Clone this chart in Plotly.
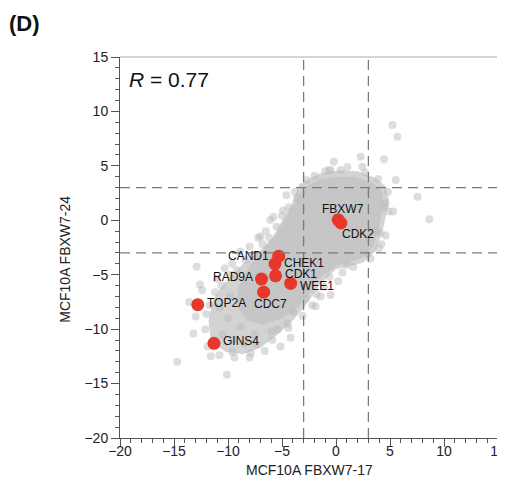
import plotly.graph_objects as go

# ---------------- data ----------------
gene_names = ["FBXW7", "CDK2", "CAND1", "CHEK1", "CDK1", "RAD9A", "WEE1", "CDC7", "TOP2A", "GINS4"]
gene_x = [0.2, 0.45, -5.3, -5.65, -5.6, -6.9, -4.2, -6.7, -12.8, -11.3]
gene_y = [0.05, -0.25, -3.3, -4.0, -5.1, -5.4, -5.8, -6.6, -7.75, -11.3]

# dense core of the genome-wide cloud (outline)
core_x = [-3.0, -1.5, 0.4, 1.8, 3.3, 4.2, 4.4, 4.0, 3.4, 2.3, 0.0, -1.6, -2.5, -3.5, -5.0, -6.8, -8.3, -9.2, -9.0, -8.0, -6.8, -5.6, -4.7, -3.8]
core_y = [3.0, 3.8, 4.0, 4.0, 3.5, 2.8, 1.6, -0.5, -2.5, -3.5, -4.2, -5.4, -6.8, -8.0, -9.0, -9.6, -9.2, -7.8, -6.0, -4.2, -2.8, -1.4, 0.1, 1.6]

# outer, lighter band of the cloud (outline)
band_x = [-3.4, -1.5, 0.4, 2.0, 3.6, 4.6, 4.9, 4.4, 3.7, 2.5, 0.0, -1.5, -2.5, -3.8, -5.4, -7.0, -8.6, -10.2, -11.6, -11.8, -11.4, -10.2, -8.6, -7.1, -5.9, -5.0, -4.1]
band_y = [3.3, 4.3, 4.6, 4.5, 3.9, 3.1, 1.8, -0.6, -2.8, -3.9, -4.5, -5.9, -7.4, -9.0, -10.5, -11.7, -12.3, -12.1, -11.1, -9.2, -7.3, -5.6, -4.0, -2.9, -1.6, -0.1, 1.5]

# individual genes at the fringe of the cloud
fringe_x = [-3.8, -4.4, -5.0, -5.5, -6.2, -6.8, -7.6, -8.4, -9.2, -9.8, -10.6, -11.2, -11.7, -12.0, -12.1, -11.9, -10.8, -9.4,
            -2.7, -2.0, -1.0, -4.6, -5.8, -7.2, -8.9, -10.3,
            4.8, 4.9, 4.6, 4.2, 3.2, 1.6, 0.6, -0.6, -1.1, -1.8, -2.2, -3.1, -4.4, -5.9, -6.6, -8.0, -0.5, -1.43, 0.2,
            -0.5, 1.05, 2.7, 3.9, -0.2, 2.28, 2.44, -0.66, 0.43,
            5.23, 5.69, 4.45, 5.53, 7.55, 8.63, 4.6, 5.3, 4.14, 3.98, -6.07, -7.0, -12.9, -12.6, -13.2, -14.7, -10.1,
            -8.86, -13.0, -12.4, -11.6, -7.9, -5.14, -4.2, -1.9, -13.6,
            -10.5, -9.5, -10.0, -10.8, -9.8, -7.5, -6.0, -8.5, -4.5,
            -3.6, -4.9, -6.5, -8.0, -9.6, -11.0, 4.5, 3.8, 2.9, 1.0, -2.8, -4.0, -5.4, -7.4, -9.6]
fringe_y = [2.6, 1.2, 0.4, -0.6, -1.6, -2.2, -3.2, -3.6, -4.6, -5.0, -6.0, -6.6, -7.8, -8.6, -10.0, -11.6, -12.4, -12.6,
            3.7, 4.1, 4.5, 2.3, 0.3, -1.6, -2.9, -4.4,
            2.6, 0.8, -1.4, -2.2, -3.5, -4.3, -4.8, -5.2, -6.1, -6.8, -7.8, -8.8, -9.9, -11.0, -12.0, -12.6, -6.86, -7.0, -5.6,
            4.6, 4.9, 4.4, 3.8, 5.38, 5.84, 4.92, 4.62, 4.62,
            8.75, 7.68, 5.6, 3.7, 2.17, 0.09, 1.56, 0.8, -1.2, -2.57, 0.03, -1.5, -4.26, -5.9, -10.4, -13.0, -14.2,
            -9.77, -8.85, -6.4, -12.5, -12.2, -11.6, -10.8, -7.9, -7.5,
            -10.5, -11.0, -9.0, -8.0, -7.0, -10.5, -10.2, -11.3, -9.5,
            2.0, 0.9, -1.0, -2.4, -4.0, -5.4, 1.2, -1.0, -3.1, -4.1, -7.2, -8.4, -10.0, -11.4, -12.1]

cut = 3
r_text = "<i>R</i> = 0.77"
x_title = "MCF10A FBXW7-17"
y_title = "MCF10A FBXW7-24"
panel = "<b>(D)</b>"

# label placement style per gene: (xanchor, yanchor, xshift, yshift)
label_pos = {
    "FBXW7": ("center", "middle", 5, 11),
    "CDK2": ("center", "middle", 17, -11),
    "CAND1": ("right", "middle", -8, 0),
    "CHEK1": ("left", "middle", 7, 1),
    "CDK1": ("left", "middle", 7, 2),
    "RAD9A": ("right", "middle", -6, 2),
    "WEE1": ("left", "middle", 7, -3),
    "CDC7": ("center", "middle", 7, -12),
    "TOP2A": ("left", "middle", 7, 2),
    "GINS4": ("left", "middle", 7, 2),
}

FONT = "Liberation Sans, Arial, Helvetica, sans-serif"

fig = go.Figure()
fig.add_trace(go.Scatter(x=band_x, y=band_y, mode="lines", fill="toself",
                         fillcolor="rgb(211,211,211)", line=dict(width=0), hoverinfo="skip"))
fig.add_trace(go.Scatter(x=core_x, y=core_y, mode="lines", fill="toself",
                         fillcolor="rgb(198,198,198)", line=dict(width=0), hoverinfo="skip"))
fig.add_trace(go.Scatter(x=fringe_x, y=fringe_y, mode="markers",
                         marker=dict(size=8, color="rgb(188,188,188)", opacity=0.5, line=dict(width=0))))
fig.add_trace(go.Scatter(x=gene_x, y=gene_y, mode="markers",
                         marker=dict(size=13, color="#e5372a", line=dict(width=0))))

for v in (-cut, cut):
    fig.add_shape(type="line", x0=v, x1=v, y0=0, y1=1, xref="x", yref="paper",
                  line=dict(color="#7a7a7a", width=1.3, dash="10px,6px"), layer="above")
    fig.add_shape(type="line", y0=v, y1=v, x0=0, x1=1, yref="y", xref="paper",
                  line=dict(color="#7a7a7a", width=1.3, dash="10px,6px"), layer="above")

# light frame on top and right
fig.add_shape(type="line", x0=0, x1=1, y0=1, y1=1, xref="paper", yref="paper",
              line=dict(color="#a8a8a8", width=1), layer="above")
fig.add_shape(type="line", x0=1, x1=1, y0=0, y1=1, xref="paper", yref="paper",
              line=dict(color="#a8a8a8", width=1), layer="above")

for name, gx, gy in zip(gene_names, gene_x, gene_y):
    xa, ya, xs, ys = label_pos[name]
    fig.add_annotation(x=gx, y=gy, text=name, showarrow=False, xanchor=xa, yanchor=ya,
                       xshift=xs, yshift=ys, font=dict(family=FONT, size=12, color="#111"))

fig.add_annotation(x=0.018, y=0.94, xref="paper", yref="paper", text=r_text, showarrow=False,
                   xanchor="left", yanchor="middle", font=dict(family=FONT, size=21, color="#111"))
fig.add_annotation(x=-0.30, y=1.089, xref="paper", yref="paper", text=panel, showarrow=False,
                   xanchor="left", yanchor="middle", font=dict(family=FONT, size=22, color="#111"))
fig.add_annotation(x=0.5, y=-0.083, xref="paper", yref="paper", text=x_title, showarrow=False,
                   xanchor="center", yanchor="middle", font=dict(family=FONT, size=14, color="#222"))
fig.add_annotation(x=-0.146, y=0.47, xref="paper", yref="paper", text=y_title, showarrow=False,
                   textangle=-90, xanchor="center", yanchor="middle", font=dict(family=FONT, size=14, color="#222"))

axis_common = dict(
    range=[-20, 15], dtick=5, tick0=0, ticks="outside", ticklen=8, tickwidth=1, tickcolor="#555",
    showline=True, linecolor="#555", linewidth=1, showgrid=False, zeroline=False,
    tickfont=dict(family=FONT, size=14, color="#222"),
    minor=dict(dtick=1, ticks="outside", ticklen=4, tickcolor="#555", showgrid=False),
)
fig.update_xaxes(**axis_common, ticklabelstandoff=-8)
fig.update_yaxes(**axis_common)

# the page body adds an 8px offset; size the figure so it fits in the 505x485 window
fig.update_layout(
    width=506, height=469, showlegend=False,
    margin=dict(l=112, r=8, t=49, b=39),
    paper_bgcolor="white", plot_bgcolor="white",
)

fig.write_html("out.html")
